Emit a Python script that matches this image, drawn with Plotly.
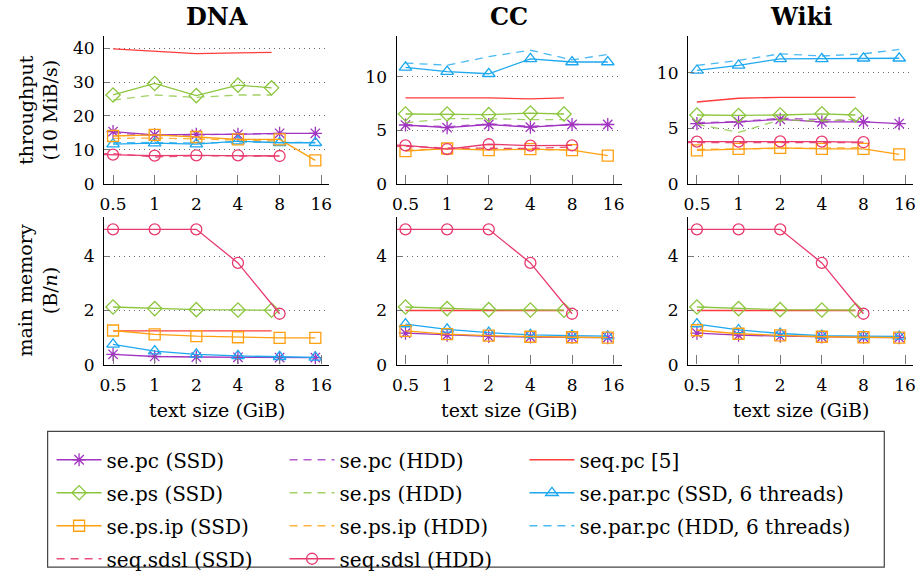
import plotly.graph_objects as go

# ---------------- data ----------------
ticks_x = [0.5, 1, 2, 4, 8, 16]
ticks_x_text = ["0.5", "1", "2", "4", "8", "16"]
size_full = [0.5, 1, 2, 4, 8, 14.5]
size_8 = [0.5, 1, 2, 4, 8]
size_7 = [0.5, 1, 2, 4, 7]
size_sdsl = [0.25, 0.5, 1, 2, 4, 8]
datasets = ["DNA", "CC", "Wiki"]

# throughput (10 MiB/s)
tp_sepc_ssd = {"DNA": [15.4, 14.4, 14.6, 14.6, 14.9, 14.9],
               "CC": [5.5, 5.25, 5.55, 5.3, 5.55, 5.55],
               "Wiki": [5.42, 5.57, 5.8, 5.57, 5.57, 5.42]}
tp_sepc_hdd = {"DNA": [15.0, 14.2, 14.4, 14.7, 14.7],
               "CC": [5.45, 5.35, 5.6, 5.4, 5.5],
               "Wiki": [5.5, 5.6, 5.9, 5.8, 5.65]}
tp_seqpc = {"DNA": [39.8, 39.2, 38.4, 38.6, 38.8],
            "CC": [8.05, 8.05, 8.05, 7.95, 8.05],
            "Wiki": [7.36, 7.7, 7.78, 7.78, 7.78]}
tp_seps_ssd = {"DNA": [26.2, 29.6, 26.0, 29.1, 28.3],
               "CC": [6.53, 6.53, 6.47, 6.62, 6.53],
               "Wiki": [6.19, 6.15, 6.19, 6.3, 6.19]}
tp_seps_hdd = {"DNA": [24.7, 26.2, 25.5, 26.2, 26.2],
               "CC": [5.7, 6.1, 6.1, 6.0, 6.0],
               "Wiki": [5.36, 4.62, 5.75, 5.65, 5.8]}
tp_separ_ssd = {"DNA": [11.7, 12.0, 11.7, 12.6, 12.1, 12.1],
                "CC": [10.9, 10.5, 10.3, 11.7, 11.4, 11.4],
                "Wiki": [10.2, 10.65, 11.25, 11.25, 11.3, 11.3]}
tp_separ_hdd = {"DNA": [12.1, 12.2, 12.0, 12.3, 12.2, 12.2],
                "CC": [11.3, 11.1, 11.9, 12.5, 11.6, 12.1],
                "Wiki": [10.65, 11.1, 11.7, 11.5, 11.7, 12.1]}
tp_sepsip_ssd = {"DNA": [14.1, 14.4, 13.8, 13.1, 13.1, 6.9],
                 "CC": [3.05, 3.3, 3.15, 3.25, 3.15, 2.64],
                 "Wiki": [3.0, 3.15, 3.24, 3.15, 3.15, 2.65]}
tp_sepsip_hdd = {"DNA": [13.4, 13.5, 13.2, 12.8, 12.6],
                 "CC": [3.15, 3.3, 3.25, 3.2, 3.15],
                 "Wiki": [3.1, 3.15, 3.2, 3.2, 3.25]}
tp_sdsl_ssd = {"DNA": [9.0, 8.9, 7.9, 8.3, 8.2, 8.1],
               "CC": [3.55, 3.5, 3.35, 3.3, 3.3, 3.45],
               "Wiki": [3.7, 3.7, 3.75, 3.75, 3.7, 3.7]}
tp_sdsl_hdd = {"DNA": [8.8, 8.6, 8.3, 8.4, 8.4, 8.2],
               "CC": [3.65, 3.6, 3.25, 3.7, 3.57, 3.6],
               "Wiki": [3.8, 3.8, 3.8, 3.82, 3.8, 3.74]}

# main memory (B/n)
mem_sepc = {"DNA": [0.38, 0.3, 0.28, 0.27, 0.26, 0.26],
            "CC": [1.16, 1.09, 1.04, 1.02, 1.01, 1.0],
            "Wiki": [1.16, 1.09, 1.05, 1.02, 1.01, 1.0]}
mem_seqpc = {"DNA": [1.25, 1.25, 1.25, 1.25, 1.25],
             "CC": [2.0, 2.0, 2.0, 2.0, 2.0],
             "Wiki": [2.0, 2.0, 2.0, 2.0, 2.0]}
mem_seps = {"DNA": [2.13, 2.07, 2.03, 2.02, 2.01],
            "CC": [2.13, 2.07, 2.03, 2.02, 2.01],
            "Wiki": [2.13, 2.07, 2.03, 2.02, 2.01]}
mem_separ = {"DNA": [0.75, 0.5, 0.38, 0.32, 0.29, 0.27],
             "CC": [1.5, 1.3, 1.18, 1.1, 1.07, 1.05],
             "Wiki": [1.5, 1.28, 1.15, 1.07, 1.05, 1.04]}
mem_sepsip = {"DNA": [1.26, 1.12, 1.05, 1.01, 0.99, 0.99],
              "CC": [1.25, 1.13, 1.07, 1.03, 1.01, 1.0],
              "Wiki": [1.27, 1.14, 1.08, 1.03, 1.01, 1.0]}
mem_sdsl = {"DNA": [5.0, 5.0, 5.0, 5.0, 3.76, 1.88],
            "CC": [5.0, 5.0, 5.0, 5.0, 3.76, 1.88],
            "Wiki": [5.0, 5.0, 5.0, 5.0, 3.76, 1.88]}

tp_ticks = {"DNA": [0, 10, 20, 30, 40], "CC": [0, 5, 10], "Wiki": [0, 5, 10]}
tp_top = {"DNA": 43.5, "CC": 13.8, "Wiki": 13.27}
mem_ticks = [0, 2, 4]
mem_top = 5.45

# ---------------- styles ----------------
PURPLE = "#a033c0"
GREEN = "#8cc63f"
ORANGE = "#ffa010"
CYAN = "#1ea8ef"
RED = "#ff3b3b"
CRIMSON = "#e83a6e"
FONT = "DejaVu Serif, serif"
DASH = "8px,6px"
MS = 11

# name: color, dash, marker, legend, opacity
styles = {
    "se.pc (SSD)": (PURPLE, "solid", "asterisk-open", "legend", 1.0),
    "se.pc (HDD)": (PURPLE, DASH, None, "legend2", 0.8),
    "seq.pc [5]": (RED, "solid", None, "legend3", 1.0),
    "se.ps (SSD)": (GREEN, "solid", "diamond-open", "legend", 1.0),
    "se.ps (HDD)": (GREEN, DASH, None, "legend2", 0.8),
    "se.par.pc (SSD, 6 threads)": (CYAN, "solid", "triangle-up-open", "legend3", 1.0),
    "se.ps.ip (SSD)": (ORANGE, "solid", "square-open", "legend", 1.0),
    "se.ps.ip (HDD)": (ORANGE, DASH, None, "legend2", 0.8),
    "se.par.pc (HDD, 6 threads)": (CYAN, DASH, None, "legend3", 0.8),
    "seq.sdsl (SSD)": (CRIMSON, DASH, None, "legend", 0.9),
    "seq.sdsl (HDD)": (CRIMSON, "solid", "circle-open", "legend2", 1.0),
}

fig = go.Figure()


def add(name, xs, ys, axi, show):
    color, dash, marker, leg, op = styles[name]
    sfx = "" if axi == 1 else str(axi)
    fig.add_trace(go.Scatter(
        x=xs, y=ys, name=name, legendgroup=name, legend=leg,
        showlegend=show, opacity=op,
        mode="lines+markers" if marker else "lines",
        line=dict(color=color, width=1.3, dash=dash),
        marker=dict(symbol=marker or "circle", size=MS, color=color,
                    line=dict(color=color, width=1.3)),
        xaxis="x" + sfx, yaxis="y" + sfx, hoverinfo="x+y+name"))


for i, ds in enumerate(datasets):
    a = i + 1
    sh = (i == 0)
    add("se.pc (SSD)", size_full, tp_sepc_ssd[ds], a, sh)
    add("se.pc (HDD)", size_8, tp_sepc_hdd[ds], a, sh)
    add("seq.pc [5]", size_7, tp_seqpc[ds], a, sh)
    add("se.ps (SSD)", size_7, tp_seps_ssd[ds], a, sh)
    add("se.ps (HDD)", size_7, tp_seps_hdd[ds], a, sh)
    add("se.par.pc (SSD, 6 threads)", size_full, tp_separ_ssd[ds], a, sh)
    add("se.ps.ip (SSD)", size_full, tp_sepsip_ssd[ds], a, sh)
    add("se.ps.ip (HDD)", size_8, tp_sepsip_hdd[ds], a, sh)
    add("se.par.pc (HDD, 6 threads)", size_full, tp_separ_hdd[ds], a, sh)
    add("seq.sdsl (SSD)", size_sdsl, tp_sdsl_ssd[ds], a, sh)
    add("seq.sdsl (HDD)", size_sdsl, tp_sdsl_hdd[ds], a, sh)

for i, ds in enumerate(datasets):
    a = i + 4
    add("se.pc (SSD)", size_full, mem_sepc[ds], a, False)
    add("seq.pc [5]", size_7, mem_seqpc[ds], a, False)
    add("se.ps (SSD)", size_7, mem_seps[ds], a, False)
    add("se.par.pc (SSD, 6 threads)", size_full, mem_separ[ds], a, False)
    add("se.ps.ip (SSD)", size_full, mem_sepsip[ds], a, False)
    add("seq.sdsl (HDD)", size_sdsl, mem_sdsl[ds], a, False)

W, H = 920, 579
xdom = [(100 / W, 327 / W), (395 / W, 622 / W), (689 / W, 916 / W)]
ydom_top = (1 - 187 / H, 1 - 37 / H)
ydom_bot = (1 - 371 / H, 1 - 221 / H)
xr = [-0.3655, 1.2614]

layout = dict(
    width=W, height=H, margin=dict(l=0, r=0, t=0, b=0),
    paper_bgcolor="white", plot_bgcolor="white",
    font=dict(family=FONT, size=17, color="black"),
    showlegend=True,
)

tickfont = dict(family=FONT, size=17, color="black")
for k in range(6):
    a = k + 1
    sfx = "" if a == 1 else str(a)
    ds = datasets[k % 3]
    layout["xaxis" + sfx] = dict(
        domain=xdom[k % 3], anchor="y" + sfx, type="log", range=xr,
        tickmode="array", tickvals=ticks_x, ticktext=ticks_x_text,
        ticks="inside", ticklen=9, tickcolor="#777", tickwidth=1,
        ticklabelstandoff=5,
        showline=True, linecolor="black", linewidth=1.3,
        showgrid=False, zeroline=False, tickfont=tickfont)
    if k < 3:
        ydict = dict(domain=ydom_top, range=[0, tp_top[ds]], tickvals=tp_ticks[ds])
    else:
        ydict = dict(domain=ydom_bot, range=[0, mem_top], tickvals=mem_ticks)
    ydict.update(
        anchor="x" + sfx, tickmode="array",
        ticks="inside", ticklen=6, tickcolor="#777", tickwidth=1,
        ticklabelstandoff=5,
        showline=True, linecolor="black", linewidth=1.3,
        showgrid=True, gridcolor="#667", gridwidth=1, griddash="1px,4px",
        zeroline=False, tickfont=tickfont)
    layout["yaxis" + sfx] = ydict

legfont = dict(family=FONT, size=20, color="black")
ly = 1 - 448 / H
for key, xp in (("legend", 47), ("legend2", 282), ("legend3", 524)):
    layout[key] = dict(x=xp / W, y=ly, xanchor="left", yanchor="top",
                       orientation="v", bgcolor="rgba(0,0,0,0)", borderwidth=0,
                       font=legfont, itemwidth=45, tracegroupgap=4,
                       traceorder="grouped")

ann = []
for k, ds in enumerate(datasets):
    sfx = "" if k == 0 else str(k + 1)
    ann.append(dict(text="<b>%s</b>" % ds, xref="x%s domain" % sfx, yref="paper",
                    x=0.5, y=1 - 17 / H, xanchor="center", yanchor="middle",
                    showarrow=False,
                    font=dict(family=FONT, size=24, color="black")))
    sfx2 = str(k + 4)
    ann.append(dict(text="text size (GiB)", xref="x%s domain" % sfx2, yref="paper",
                    x=0.5, y=1 - 417 / H, xanchor="center", yanchor="middle",
                    showarrow=False,
                    font=dict(family=FONT, size=19, color="black")))
ann.append(dict(text="throughput<br>(10 MiB/s)", xref="paper", yref="y domain",
                x=33 / W, y=0.5, xanchor="center", yanchor="middle",
                textangle=-90, showarrow=False,
                font=dict(family=FONT, size=19, color="black")))
ann.append(dict(text="main memory<br>(B/<i>n</i>)", xref="paper", yref="y4 domain",
                x=33 / W, y=0.5, xanchor="center", yanchor="middle",
                textangle=-90, showarrow=False,
                font=dict(family=FONT, size=19, color="black")))
layout["annotations"] = ann
layout["shapes"] = [dict(type="rect", xref="paper", yref="paper",
                         x0=43 / W, x1=887 / W, y0=1 - 577 / H, y1=1 - 439 / H,
                         line=dict(color="#444", width=1.2), fillcolor="rgba(0,0,0,0)")]

fig.update_layout(**layout)
fig.write_html("out.html")
